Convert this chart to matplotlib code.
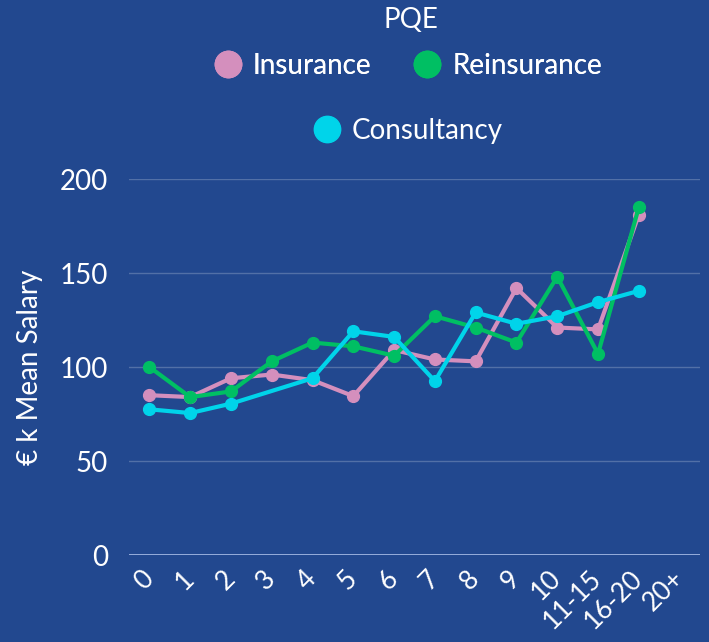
import numpy as np
import matplotlib
matplotlib.use("Agg")
import matplotlib.pyplot as plt
import matplotlib.transforms as mtransforms
from matplotlib.lines import Line2D

categories = ["0", "1", "2", "3", "4", "5", "6", "7", "8", "9", "10", "11-15", "16-20", "20+"]
insurance = [85, 84, 94, 96, 93, 84.5, 109, 104, 103, 142, 121, 120, 181, np.nan]
reinsurance = [100, 84, 87, 103, 113, 111, 106, 127, 121, 113, 148, 107, 185, np.nan]
consultancy = [77.5, 75.5, 80.5, np.nan, 94, 119, 116, 92.5, 129, 123, 127, 134.5, 140.5, np.nan]
series_names = ["Insurance", "Reinsurance", "Consultancy"]
colors = ["#d48fbd", "#00bf63", "#00d4ea"]
yticks = [0, 50, 100, 150, 200]

BG = "#22488f"
plt.rcParams["font.family"] = ["Lato", "DejaVu Sans"]
plt.rcParams["font.weight"] = "normal"

W, H = 709, 642
fig = plt.figure(figsize=(W/100, H/100), dpi=100, facecolor=BG)
ax = fig.add_axes([129/W, 1-555/H, (700-129)/W, (555-179)/H])
ax.set_facecolor(BG)

x = np.arange(len(categories))
for vals, c in zip([insurance, reinsurance, consultancy], colors):
    v = np.array(vals, dtype=float)
    m = ~np.isnan(v)
    ax.plot(x[m], v[m], color=c, lw=3, marker="o", markersize=8.5, solid_capstyle="round", zorder=3)

ax.set_xlim(-0.5, len(categories) - 0.5)
ax.set_ylim(0, 200)
ax.set_yticks(yticks)
ax.set_xticks(x)
ax.set_xticklabels(categories, rotation=45, ha="right", va="center", rotation_mode="anchor", fontsize=19)
off = mtransforms.ScaledTranslation(11/72, -3/72, fig.dpi_scale_trans)
for lab in ax.get_xticklabels():
    lab.set_transform(lab.get_transform() + off)
for sp in ax.spines.values():
    sp.set_visible(False)
ax.grid(axis="y", color="white", alpha=0.22, lw=1)
ax.axhline(0, color="#a9bde8", lw=1.2, zorder=2)
ax.tick_params(axis="both", length=0, colors="white")
ax.tick_params(axis="y", pad=15, labelsize=20)
ax.tick_params(axis="x", pad=14)
ax.set_ylabel("€ k Mean Salary", color="white", fontsize=20, labelpad=12)

handles = [Line2D([], [], ls="none", marker="o", markersize=19, color=c) for c in colors]
cx = 408 / W
fig.text(cx + 3/W, 1 - 20/H, "PQE", color="white", fontsize=20, ha="center", va="center")
leg1 = fig.legend(handles[:2], series_names[:2], loc="center", bbox_to_anchor=(cx, 1 - 66/H),
                  ncol=2, frameon=False, fontsize=20, labelcolor="white",
                  handlelength=1.0, handletextpad=0.4, columnspacing=1.5, borderpad=0, borderaxespad=0)
fig.add_artist(leg1)
leg2 = fig.legend(handles[2:], series_names[2:], loc="center", bbox_to_anchor=(cx, 1 - 131/H),
                  frameon=False, fontsize=20, labelcolor="white",
                  handlelength=1.0, handletextpad=0.4, borderpad=0, borderaxespad=0)

fig.savefig("out.png", dpi=100, facecolor=BG)
